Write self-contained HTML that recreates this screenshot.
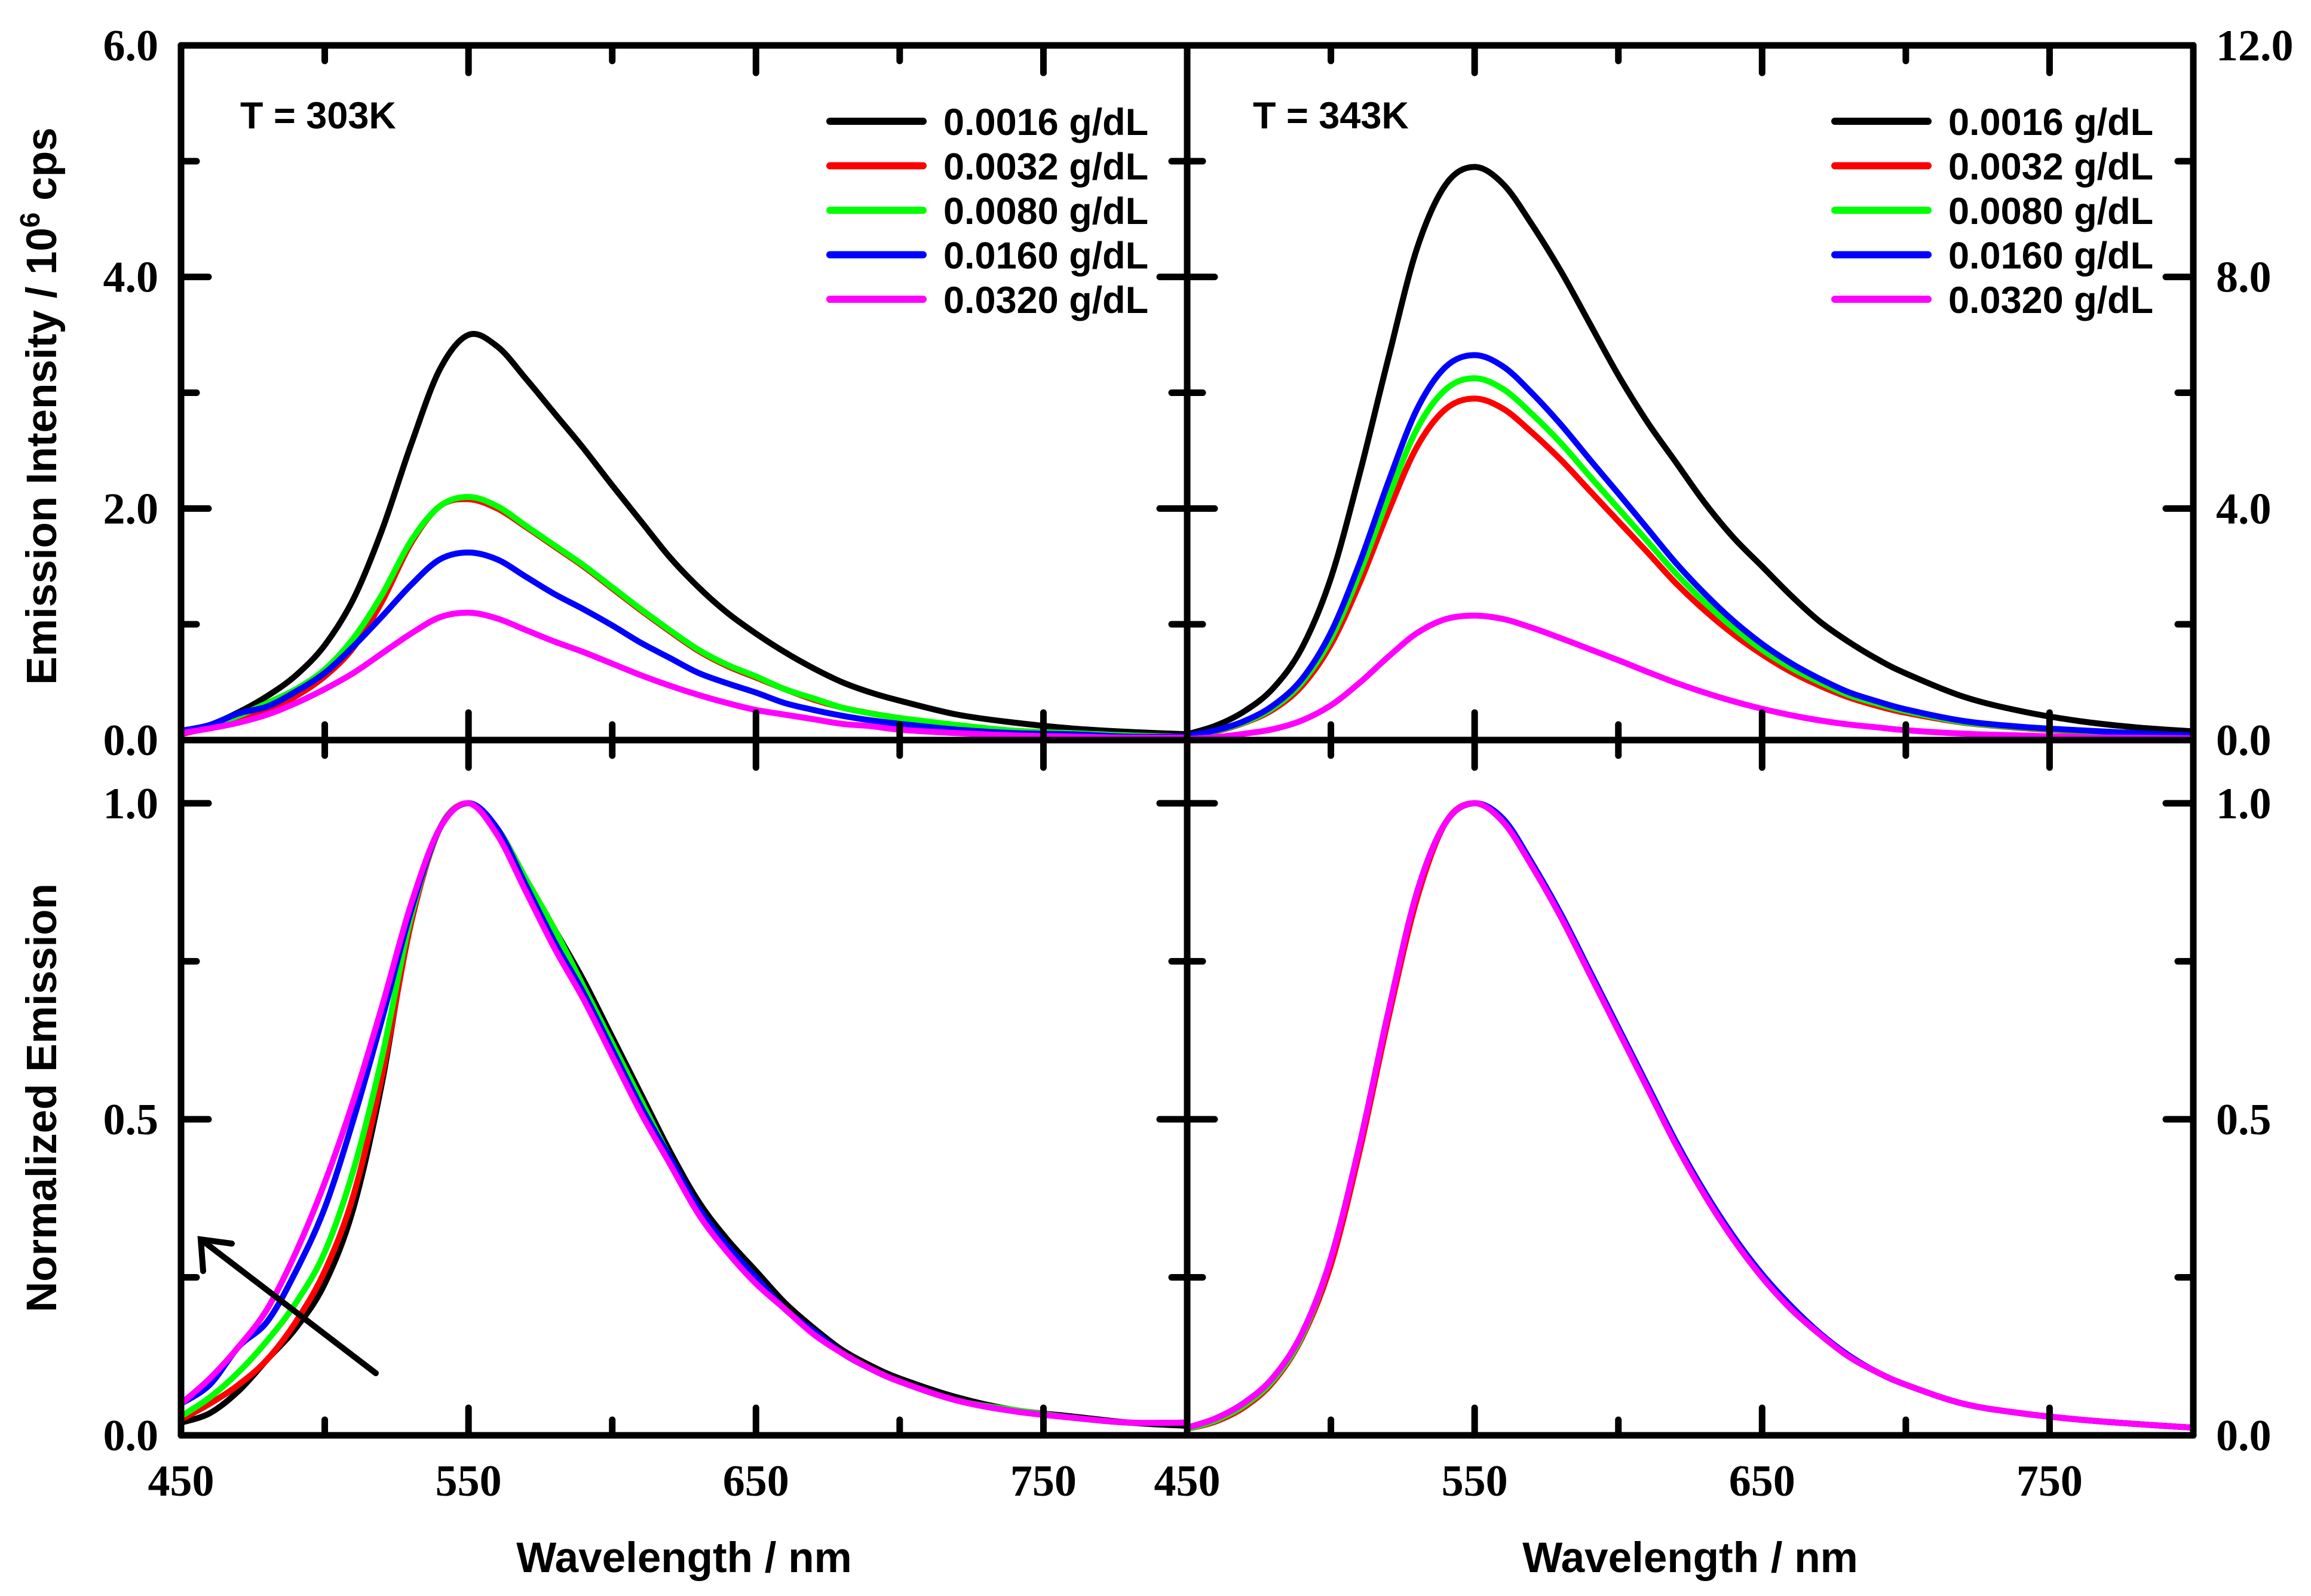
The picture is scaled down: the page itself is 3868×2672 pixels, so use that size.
<!DOCTYPE html>
<html><head><meta charset="utf-8"><style>
html,body{margin:0;padding:0;background:#fff;}
svg{display:block;}
.tk{font-family:"Liberation Serif",serif;font-weight:bold;font-size:74px;}
.ttl{font-family:"Liberation Sans",sans-serif;font-weight:bold;font-size:71px;}
.lg{font-family:"Liberation Sans",sans-serif;font-weight:bold;font-size:63px;}
</style></head><body>
<svg id="chart" width="3868" height="2672" viewBox="0 0 3868 2672" xmlns="http://www.w3.org/2000/svg">
<g id="plots"></g>
<g id="frame"></g>
<g id="labels"></g>
<text class="ttl" x="1145" y="2632" text-anchor="middle">Wavelength / nm</text>
<text class="ttl" x="2829" y="2632" text-anchor="middle">Wavelength / nm</text>
<text class="ttl" transform="translate(94,680) rotate(-90)" text-anchor="middle">Emission Intensity / 10<tspan dy="-28" font-size="46">6</tspan><tspan dy="28"> cps</tspan></text>
<text class="ttl" transform="translate(94,1838) rotate(-90)" text-anchor="middle">Normalized Emission</text>
<text class="lg" x="402" y="215">T = 303K</text>
<text class="lg" x="2097" y="215">T = 343K</text>
<g id="legends"></g>
<g stroke="#000" stroke-width="10" fill="none" stroke-linecap="round">
<line x1="629" y1="2299" x2="340" y2="2078"/>
<polyline points="340,2128 336,2075 388,2082"/>
</g>
</svg>
<script>
const NS="http://www.w3.org/2000/svg";
const wl=[450,460,470,480,490,500,510,520,530,540,550,560,570,580,590,600,610,620,630,640,650,660,670,680,690,700,720,740,760,780,800];
const seriesNames=["0.0016 g/dL","0.0032 g/dL","0.0080 g/dL","0.0160 g/dL","0.0320 g/dL"];
const colors=["#000000","#ff0000","#00ff00","#0000ff","#ff00ff"];
// 303K absolute (10^6 cps)
const abs303_black=[0.07,0.13,0.24,0.38,0.56,0.82,1.22,1.82,2.55,3.2,3.5,3.4,3.12,2.82,2.52,2.2,1.89,1.58,1.32,1.1,0.92,0.76,0.62,0.5,0.41,0.34,0.22,0.15,0.1,0.07,0.05];
const abs303_red=[0.05,0.11,0.17,0.25,0.38,0.55,0.8,1.2,1.7,2.02,2.08,2.0,1.84,1.67,1.5,1.31,1.12,0.94,0.77,0.64,0.54,0.44,0.35,0.28,0.23,0.19,0.12,0.08,0.06,0.04,0.03];
const abs303_green=[0.06,0.13,0.21,0.32,0.44,0.61,0.88,1.26,1.72,2.02,2.1,2.02,1.85,1.68,1.51,1.32,1.13,0.95,0.78,0.65,0.55,0.44,0.36,0.28,0.23,0.19,0.13,0.08,0.06,0.04,0.03];
const abs303_blue=[0.08,0.13,0.23,0.29,0.42,0.58,0.81,1.07,1.34,1.56,1.62,1.56,1.41,1.26,1.13,0.99,0.84,0.71,0.58,0.49,0.41,0.32,0.26,0.21,0.17,0.14,0.09,0.06,0.05,0.03,0.03];
const abs303_magenta=[0.06,0.1,0.15,0.22,0.32,0.44,0.58,0.75,0.92,1.06,1.1,1.05,0.95,0.85,0.76,0.66,0.56,0.47,0.39,0.32,0.26,0.22,0.18,0.14,0.12,0.09,0.06,0.04,0.03,0.02,0.02];
// 343K absolute (10^6 cps)
const abs343_black=[0.1,0.25,0.5,0.9,1.6,2.8,4.6,6.6,8.5,9.6,9.9,9.6,8.9,8.1,7.2,6.3,5.5,4.8,4.1,3.5,3.0,2.5,2.05,1.7,1.4,1.15,0.75,0.5,0.33,0.22,0.15];
const abs343_red=[0.06,0.15,0.3,0.53,0.94,1.65,2.71,3.95,5.07,5.72,5.9,5.72,5.31,4.84,4.31,3.78,3.25,2.71,2.24,1.83,1.48,1.18,0.94,0.74,0.59,0.47,0.3,0.21,0.15,0.11,0.07];
const abs343_green=[0.06,0.16,0.31,0.56,1.0,1.75,2.88,4.19,5.38,6.06,6.25,6.06,5.63,5.13,4.56,4.0,3.44,2.88,2.38,1.94,1.56,1.25,1.0,0.78,0.63,0.5,0.31,0.22,0.16,0.11,0.08];
const abs343_blue=[0.07,0.17,0.33,0.6,1.06,1.86,3.06,4.46,5.72,6.45,6.65,6.45,5.99,5.45,4.85,4.26,3.66,3.06,2.53,2.06,1.66,1.33,1.06,0.83,0.67,0.53,0.33,0.23,0.17,0.12,0.08];
const abs343_magenta=[0.02,0.05,0.11,0.19,0.34,0.6,0.99,1.44,1.85,2.09,2.15,2.09,1.94,1.76,1.57,1.38,1.18,0.99,0.82,0.67,0.54,0.43,0.34,0.27,0.22,0.17,0.11,0.08,0.05,0.04,0.03];
// normalized 303K
const norm303_black=[0.02,0.035,0.07,0.12,0.17,0.24,0.36,0.56,0.82,0.96,1.0,0.96,0.88,0.8,0.72,0.63,0.54,0.45,0.37,0.31,0.26,0.21,0.17,0.135,0.11,0.09,0.06,0.04,0.03,0.02,0.015];
const norm303_red=[0.025,0.05,0.08,0.12,0.18,0.26,0.38,0.57,0.81,0.96,1.0,0.96,0.88,0.8,0.71,0.62,0.53,0.44,0.36,0.3,0.25,0.2,0.165,0.13,0.105,0.085,0.055,0.04,0.028,0.02,0.02];
const norm303_green=[0.03,0.06,0.1,0.15,0.21,0.29,0.42,0.6,0.82,0.96,1.0,0.96,0.88,0.8,0.71,0.62,0.53,0.44,0.36,0.3,0.25,0.2,0.165,0.13,0.105,0.085,0.055,0.04,0.028,0.02,0.02];
const norm303_blue=[0.05,0.08,0.14,0.18,0.26,0.36,0.5,0.66,0.83,0.96,1.0,0.96,0.87,0.78,0.7,0.61,0.52,0.44,0.36,0.3,0.25,0.2,0.165,0.13,0.105,0.085,0.055,0.038,0.028,0.02,0.02];
const norm303_magenta=[0.05,0.09,0.14,0.2,0.29,0.4,0.53,0.68,0.84,0.96,1.0,0.95,0.86,0.77,0.69,0.6,0.51,0.43,0.35,0.29,0.24,0.2,0.16,0.13,0.105,0.085,0.055,0.038,0.028,0.02,0.02];
// normalized 343K
const norm343_black=[0.01,0.025,0.05,0.09,0.16,0.28,0.46,0.67,0.86,0.97,1.0,0.97,0.9,0.82,0.73,0.64,0.55,0.46,0.38,0.31,0.25,0.2,0.16,0.125,0.1,0.08,0.05,0.035,0.025,0.018,0.012];
const norm343_red=[0.01,0.022,0.045,0.085,0.155,0.27,0.45,0.66,0.85,0.97,1.0,0.97,0.9,0.82,0.73,0.64,0.55,0.46,0.38,0.31,0.25,0.2,0.16,0.125,0.1,0.08,0.05,0.035,0.025,0.018,0.012];
const norm343_green=[0.01,0.024,0.048,0.088,0.158,0.28,0.46,0.67,0.86,0.97,1.0,0.97,0.9,0.82,0.73,0.64,0.55,0.46,0.38,0.31,0.25,0.2,0.16,0.125,0.1,0.08,0.05,0.035,0.025,0.018,0.012];
const norm343_blue=[0.012,0.027,0.052,0.092,0.162,0.28,0.46,0.67,0.86,0.97,1.0,0.975,0.905,0.825,0.735,0.645,0.555,0.465,0.385,0.315,0.255,0.205,0.162,0.127,0.1,0.08,0.05,0.035,0.025,0.018,0.012];
const norm343_magenta=[0.012,0.027,0.052,0.092,0.162,0.28,0.46,0.67,0.86,0.97,1.0,0.97,0.9,0.82,0.73,0.64,0.55,0.46,0.38,0.31,0.25,0.2,0.16,0.125,0.1,0.08,0.05,0.035,0.025,0.018,0.012];
const xTicks=[450,500,550,600,650,700,750,800];
const xTickLabels=["450","","550","","650","","750",""];
const yTopLeftTicks=[0,1,2,3,4,5,6];
const yTopLeftLabels=["0.0","","2.0","","4.0","","6.0"];
const yTopRightTicks=[0,2,4,6,8,10,12];
const yTopRightLabels=["0.0","","4.0","","8.0","","12.0"];
const yBotTicks=[0,0.25,0.5,0.75,1.0];
const yBotLabels=["0.0","","0.5","","1.0"];

const XL=[303,1987], XR=[1987,3671];
const TOP=[76,1239], BOT=[1239,2403];
function xs(px){return v=>px[0]+(v-450)/(800-450)*(px[1]-px[0]);}
function ys(py,max){return v=>py[1]-v/max*(py[1]-py[0]);}
const panels=[
 {name:"top-left",x:xs(XL),y:ys(TOP,6),data:[abs303_black,abs303_red,abs303_green,abs303_blue,abs303_magenta]},
 {name:"top-right",x:xs(XR),y:ys(TOP,12),data:[abs343_black,abs343_red,abs343_green,abs343_blue,abs343_magenta]},
 {name:"bottom-left",x:xs(XL),y:ys(BOT,1.1),data:[norm303_black,norm303_red,norm303_green,norm303_blue,norm303_magenta]},
 {name:"bottom-right",x:xs(XR),y:ys(BOT,1.1),data:[norm343_black,norm343_red,norm343_green,norm343_blue,norm343_magenta]}
];
function mk(tag,attrs,parent){const e=document.createElementNS(NS,tag);for(const k in attrs)e.setAttribute(k,attrs[k]);parent.appendChild(e);return e;}
function smooth(pts){let d="M"+pts[0][0].toFixed(1)+","+pts[0][1].toFixed(1);
 for(let i=0;i<pts.length-1;i++){const p0=pts[i-1]||pts[i],p1=pts[i],p2=pts[i+1],p3=pts[i+2]||p2;
  const c1=[p1[0]+(p2[0]-p0[0])/6,p1[1]+(p2[1]-p0[1])/6],c2=[p2[0]-(p3[0]-p1[0])/6,p2[1]-(p3[1]-p1[1])/6];
  d+=" C"+c1[0].toFixed(1)+","+c1[1].toFixed(1)+" "+c2[0].toFixed(1)+","+c2[1].toFixed(1)+" "+p2[0].toFixed(1)+","+p2[1].toFixed(1);}
 return d;}
const plots=document.getElementById("plots");
const cols=["black","red","green","blue","magenta"];
panels.forEach(p=>{
 p.data.forEach((arr,si)=>{
  const pts=wl.map((w,i)=>[p.x(w),p.y(arr[i])]);
  const path=mk("path",{d:smooth(pts),fill:"none",stroke:colors[si],"stroke-width":10,"stroke-linejoin":"round","stroke-linecap":"round"},plots);
  
  
 });
});
const frame=document.getElementById("frame");
function ln(x1,y1,x2,y2,name){const l=mk("line",{x1,y1,x2,y2,stroke:"#000","stroke-width":11,"stroke-linecap":"round"},frame);
 
 }
ln(303,76,3671,76,"frame-top");ln(303,2403,3671,2403,"frame-bottom");ln(303,1239,3671,1239,"frame-middle");
ln(303,76,303,2403,"frame-left");ln(1987,76,1987,2403,"frame-center");ln(3671,76,3671,2403,"frame-right");
const MAJ=46,MIN=26;
const labels=document.getElementById("labels");
function txt(x,y,s,anchor,name){const t=mk("text",{x,y,"text-anchor":anchor,"class":"tk"},labels);t.textContent=s;
 
 }
[[XL,xs(XL)],[XR,xs(XR)]].forEach(([px,fx],pi)=>{
 xTicks.forEach((v,i)=>{const x=fx(v),L=xTickLabels[i]?MAJ:MIN;
  ln(x,76,x,76+L,"x-tick-top");ln(x,1239-L,x,1239+L,"x-tick-mid");ln(x,2403,x,2403-L,"x-tick-bottom");
  if(xTickLabels[i])txt(x,2504,xTickLabels[i],"middle","x-tick-label");
 });
});
const yTL=ys(TOP,6),yTR=ys(TOP,12),yB=ys(BOT,1.1);
yTopLeftTicks.forEach((v,i)=>{const y=yTL(v),L=yTopLeftLabels[i]?MAJ:MIN;ln(303,y,303+L,y,"y-tick-left");ln(1987-L,y,1987+L,y,"y-tick-center");
 if(yTopLeftLabels[i])txt(265,y+25,yTopLeftLabels[i],"end","y-tick-label-left");});
yTopRightTicks.forEach((v,i)=>{const y=yTR(v),L=yTopRightLabels[i]?MAJ:MIN;ln(3671-L,y,3671,y,"y-tick-right");
 if(yTopRightLabels[i])txt(3709,y+25,yTopRightLabels[i],"start","y-tick-label-right");});
yBotTicks.forEach((v,i)=>{const y=yB(v),L=yBotLabels[i]?MAJ:MIN;ln(303,y,303+L,y,"y-tick-left");ln(1987-L,y,1987+L,y,"y-tick-center");ln(3671-L,y,3671,y,"y-tick-right");
 if(yBotLabels[i]){txt(265,y+25,yBotLabels[i],"end","y-tick-label-left");txt(3709,y+25,yBotLabels[i],"start","y-tick-label-right");}});
const lgs=document.getElementById("legends");
[[1389,1545,1579],[3071,3227,3261]].forEach(([a,b,t],pi)=>{
 seriesNames.forEach((s,i)=>{const y=203+i*74.5;
  const l=mk("line",{x1:a,y1:y,x2:b,y2:y,stroke:colors[i],"stroke-width":12,"stroke-linecap":"round"},lgs);
  
  
  const tx=mk("text",{x:t,y:y+23,"class":"lg"},lgs);tx.textContent=s;
  
  
 });
});
</script>
</body></html>
